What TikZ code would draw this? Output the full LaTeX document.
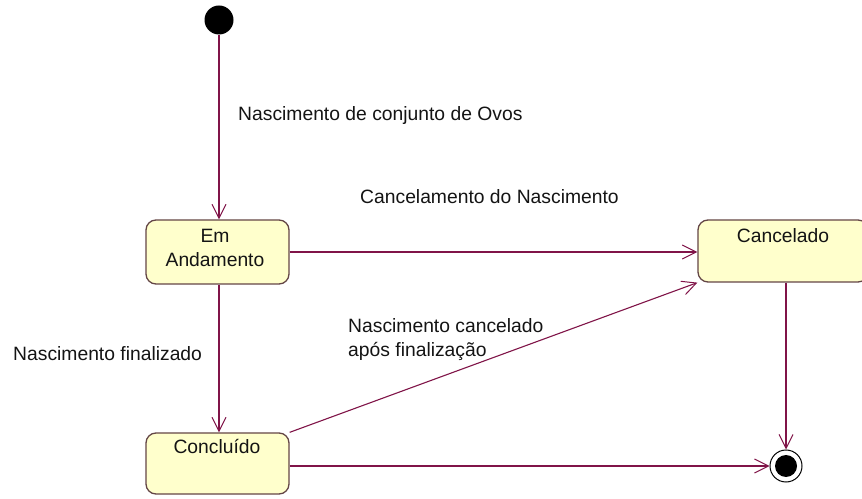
\documentclass[tikz,border=0pt]{standalone}
\usepackage{fontspec}
\setmainfont{Liberation Sans}
\usetikzlibrary{arrows.meta}
\definecolor{lnc}{RGB}{128,20,72}
\definecolor{bxc}{RGB}{255,255,204}
\definecolor{bdc}{RGB}{100,70,70}
\begin{document}
\begin{tikzpicture}[x=1pt,y=1pt,
 state/.style={draw=bdc, fill=bxc, rounded corners=10pt, line width=1.3pt, inner sep=0},
 conn/.style={draw=lnc, line width=1.1pt, -{Straight Barb[length=14pt,width=14pt,line width=1pt]}},
 lbl/.style={inner sep=0, font=\fontsize{19.3}{24}\selectfont, text=black!92}]
\useasboundingbox (0,0) rectangle (862,498);
\clip (0,0) rectangle (862,498);
\fill[white] (0,0) rectangle (862,498);
% states
\node[circle, fill=black, minimum size=29pt, inner sep=0] (init) at (219,478) {};
\node[state, minimum width=143pt, minimum height=64pt] (ea) at (217.5,246) {};
\node[state, minimum width=170pt, minimum height=62pt] (canc) at (783,247) {};
\node[state, minimum width=143pt, minimum height=61pt] (conc) at (217.5,34.5) {};
\node[circle, draw=black, line width=1pt, minimum size=32pt, inner sep=0] (fin) at (786,32) {};
\node[circle, fill=black, minimum size=22pt, inner sep=0] (finin) at (786,32) {};
% state texts
\node[lbl, anchor=north, align=center] (eat) at (215,268.6) {Em\\Andamento};
\node[lbl, anchor=base] (canct) at (783,255) {Cancelado};
\node[lbl, anchor=base] (conct) at (217,44) {Concluído};
% connectors
\draw[conn] (init.south) -- (init.south |- ea.north);
\draw[conn] (ea.east) -- (ea.east -| canc.west);
\draw[conn] (ea.south -| init) -- (conc.north -| init);
\draw[conn] (conc.north east) -- (canc.south west);
\draw[conn] (canc.south -| fin) -- (fin.north);
\draw[conn] (conc.east |- fin) -- (fin.west);
% labels
\node[lbl, anchor=base west] (l1) at (238,377) {Nascimento de conjunto de Ovos};
\node[lbl, anchor=base west] (l2) at (360,294) {Cancelamento do Nascimento};
\node[lbl, anchor=base west] (l3) at (13,137) {Nascimento finalizado};
\node[lbl, anchor=north west, align=left] (l4) at (348,179.6) {Nascimento cancelado\\após finalização};
\end{tikzpicture}
\end{document}
